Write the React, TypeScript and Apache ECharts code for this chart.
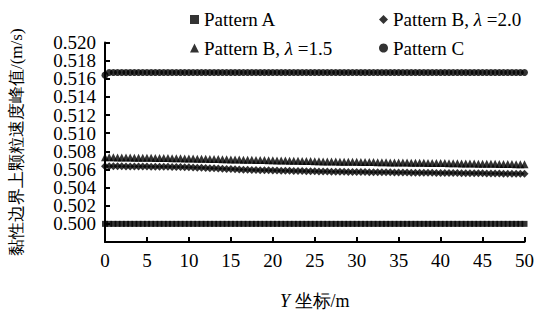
import React, { useEffect, useRef } from "react";
import * as echarts from "echarts";

const xValues = [
  0, 0.5, 1, 1.5, 2, 2.5, 3, 3.5, 4, 4.5,
  5, 5.5, 6, 6.5, 7, 7.5, 8, 8.5, 9, 9.5,
  10, 10.5, 11, 11.5, 12, 12.5, 13, 13.5, 14, 14.5,
  15, 15.5, 16, 16.5, 17, 17.5, 18, 18.5, 19, 19.5,
  20, 20.5, 21, 21.5, 22, 22.5, 23, 23.5, 24, 24.5,
  25, 25.5, 26, 26.5, 27, 27.5, 28, 28.5, 29, 29.5,
  30, 30.5, 31, 31.5, 32, 32.5, 33, 33.5, 34, 34.5,
  35, 35.5, 36, 36.5, 37, 37.5, 38, 38.5, 39, 39.5,
  40, 40.5, 41, 41.5, 42, 42.5, 43, 43.5, 44, 44.5,
  45, 45.5, 46, 46.5, 47, 47.5, 48, 48.5, 49, 49.5, 50,
];

const patternA = [
  0.5, 0.5, 0.5, 0.5, 0.5, 0.5, 0.5, 0.5, 0.5, 0.5,
  0.5, 0.5, 0.5, 0.5, 0.5, 0.5, 0.5, 0.5, 0.5, 0.5,
  0.5, 0.5, 0.5, 0.5, 0.5, 0.5, 0.5, 0.5, 0.5, 0.5,
  0.5, 0.5, 0.5, 0.5, 0.5, 0.5, 0.5, 0.5, 0.5, 0.5,
  0.5, 0.5, 0.5, 0.5, 0.5, 0.5, 0.5, 0.5, 0.5, 0.5,
  0.5, 0.5, 0.5, 0.5, 0.5, 0.5, 0.5, 0.5, 0.5, 0.5,
  0.5, 0.5, 0.5, 0.5, 0.5, 0.5, 0.5, 0.5, 0.5, 0.5,
  0.5, 0.5, 0.5, 0.5, 0.5, 0.5, 0.5, 0.5, 0.5, 0.5,
  0.5, 0.5, 0.5, 0.5, 0.5, 0.5, 0.5, 0.5, 0.5, 0.5,
  0.5, 0.5, 0.5, 0.5, 0.5, 0.5, 0.5, 0.5, 0.5, 0.5, 0.5,
];

const patternB20 = [
  0.50635, 0.50635, 0.50634, 0.50634, 0.50634, 0.50633, 0.50633, 0.50633, 0.50632, 0.50632,
  0.50632, 0.50631, 0.50631, 0.5063, 0.5063, 0.50629, 0.50628, 0.50627, 0.50626, 0.50625,
  0.50624, 0.50622, 0.5062, 0.50618, 0.50616, 0.50614, 0.50612, 0.5061, 0.50608, 0.50606,
  0.50604, 0.50602, 0.506, 0.50598, 0.50597, 0.50595, 0.50594, 0.50592, 0.50591, 0.5059,
  0.50589, 0.50588, 0.50587, 0.50586, 0.50585, 0.50584, 0.50583, 0.50582, 0.50581, 0.5058,
  0.50579, 0.50578, 0.50577, 0.50577, 0.50576, 0.50575, 0.50575, 0.50574, 0.50573, 0.50573,
  0.50572, 0.50572, 0.50571, 0.5057, 0.5057, 0.50569, 0.50569, 0.50568, 0.50568, 0.50567,
  0.50567, 0.50566, 0.50566, 0.50565, 0.50565, 0.50564, 0.50564, 0.50563, 0.50563, 0.50562,
  0.50562, 0.50561, 0.50561, 0.5056, 0.5056, 0.50559, 0.50559, 0.50558, 0.50558, 0.50557,
  0.50557, 0.50556, 0.50556, 0.50555, 0.50555, 0.50554, 0.50554, 0.50553, 0.50553, 0.50552, 0.50552,
];

const patternB15 = [
  0.50735, 0.50734, 0.50734, 0.50733, 0.50732, 0.50732, 0.50731, 0.5073, 0.5073, 0.50729,
  0.50728, 0.50728, 0.50727, 0.50726, 0.50726, 0.50725, 0.50724, 0.50724, 0.50723, 0.50722,
  0.50721, 0.5072, 0.50719, 0.50718, 0.50717, 0.50716, 0.50715, 0.50714, 0.50713, 0.50712,
  0.50711, 0.5071, 0.50709, 0.50708, 0.50707, 0.50706, 0.50705, 0.50704, 0.50703, 0.50702,
  0.50701, 0.507, 0.50699, 0.50698, 0.50697, 0.50696, 0.50695, 0.50694, 0.50693, 0.50692,
  0.50691, 0.5069, 0.50689, 0.50688, 0.50688, 0.50687, 0.50686, 0.50686, 0.50685, 0.50684,
  0.50684, 0.50683, 0.50682, 0.50682, 0.50681, 0.5068, 0.5068, 0.50679, 0.50678, 0.50678,
  0.50677, 0.50676, 0.50676, 0.50675, 0.50674, 0.50674, 0.50673, 0.50672, 0.50672, 0.50671,
  0.5067, 0.5067, 0.50669, 0.50668, 0.50668, 0.50667, 0.50666, 0.50666, 0.50665, 0.50664,
  0.50664, 0.50663, 0.50662, 0.50662, 0.50661, 0.5066, 0.5066, 0.50659, 0.50658, 0.50658, 0.50657,
];

const patternC = [
  0.5164, 0.5167, 0.5167, 0.5167, 0.5167, 0.5167, 0.5167, 0.5167, 0.5167, 0.5167,
  0.5167, 0.5167, 0.5167, 0.5167, 0.5167, 0.5167, 0.5167, 0.5167, 0.5167, 0.5167,
  0.5167, 0.5167, 0.5167, 0.5167, 0.5167, 0.5167, 0.5167, 0.5167, 0.5167, 0.5167,
  0.5167, 0.5167, 0.5167, 0.5167, 0.5167, 0.5167, 0.5167, 0.5167, 0.5167, 0.5167,
  0.5167, 0.5167, 0.5167, 0.5167, 0.5167, 0.5167, 0.5167, 0.5167, 0.5167, 0.5167,
  0.5167, 0.5167, 0.5167, 0.5167, 0.5167, 0.5167, 0.5167, 0.5167, 0.5167, 0.5167,
  0.5167, 0.5167, 0.5167, 0.5167, 0.5167, 0.5167, 0.5167, 0.5167, 0.5167, 0.5167,
  0.5167, 0.5167, 0.5167, 0.5167, 0.5167, 0.5167, 0.5167, 0.5167, 0.5167, 0.5167,
  0.5167, 0.5167, 0.5167, 0.5167, 0.5167, 0.5167, 0.5167, 0.5167, 0.5167, 0.5167,
  0.5167, 0.5167, 0.5167, 0.5167, 0.5167, 0.5167, 0.5167, 0.5167, 0.5167, 0.5167, 0.5167,
];

const seriesNames = ["Pattern A", "Pattern B, λ=2.0", "Pattern B, λ=1.5", "Pattern C"];
const seriesSymbols = ["rect", "diamond", "triangle", "circle"];
const seriesSizes = [6, 8, 8, 7];
const seriesValues = [patternA, patternB20, patternB15, patternC];

const yAxisTitle = "黏性边界上颗粒速度峰值/(m/s)";

function legendLabel(name: string): string {
  if (name.indexOf("λ") >= 0) {
    const parts = name.split("λ");
    return `{n|${parts[0]}}{i|λ}{n| ${parts[1]}}`;
  }
  return `{n|${name}}`;
}

export default function App() {
  const ref = useRef<HTMLDivElement>(null);
  useEffect(() => {
    if (!ref.current) return;
    const chart = echarts.init(ref.current, undefined, { renderer: "svg" });
    const legendPos = [
      { left: 190, top: 10 },
      { left: 379, top: 10 },
      { left: 190, top: 38.5 },
      { left: 379, top: 38.5 },
    ];
    const rich = {
      n: { fontSize: 19, color: "#000" },
      i: { fontSize: 19, fontStyle: "italic", color: "#000" },
    };
    chart.setOption({
      animation: false,
      backgroundColor: "#fff",
      textStyle: { fontFamily: "serif", color: "#000" },
      grid: { left: 97, right: 9, top: 42.5, bottom: 66, containLabel: false },
      legend: seriesNames.map((n, i) => ({
        data: [n],
        left: legendPos[i].left,
        top: legendPos[i].top,
        padding: 0,
        itemWidth: 9,
        itemHeight: 9,
        itemGap: 0,
        formatter: (name: string) => legendLabel(name),
        textStyle: { color: "#000", fontSize: 19, rich },
      })),
      xAxis: {
        type: "value",
        min: 0,
        max: 50,
        interval: 5,
        name: "{i|Y} {n|坐标/m}",
        nameLocation: "middle",
        nameGap: 50,
        nameTextStyle: {
          color: "#000",
          fontSize: 18,
          rich: {
            i: { fontSize: 18, fontStyle: "italic", color: "#000" },
            n: { fontSize: 18, color: "#000" },
          },
        },
        axisLine: { onZero: false, lineStyle: { color: "#000", width: 2 } },
        axisTick: { inside: true, length: 5, lineStyle: { color: "#000", width: 2 } },
        axisLabel: { color: "#000", fontSize: 19, margin: 9 },
        splitLine: { show: false },
      },
      yAxis: {
        type: "value",
        min: 0.498,
        max: 0.52000001,
        interval: 0.002,
        name: yAxisTitle,
        nameLocation: "middle",
        nameRotate: 90,
        nameGap: 80,
        nameTextStyle: { color: "#000", fontSize: 17 },
        axisLine: { show: true, onZero: false, lineStyle: { color: "#000", width: 2 } },
        axisTick: { show: true, inside: true, length: 5, lineStyle: { color: "#000", width: 2 } },
        axisLabel: {
          color: "#000",
          fontSize: 19,
          lineHeight: 17,
          margin: 9,
          formatter: (v: number) => v.toFixed(3),
        },
        splitLine: { show: false },
      },
      series: seriesNames.map((n, i) => ({
        name: n,
        type: "scatter",
        symbol: seriesSymbols[i],
        symbolSize: seriesSizes[i],
        itemStyle: { color: "#000" },
        data: xValues.map((x, j) => [x, seriesValues[i][j]]),
      })),
    });
    return () => chart.dispose();
  }, []);
  return (
    <div
      ref={ref}
      style={{ position: "absolute", left: 0, top: 0, width: 537, height: 315 }}
    />
  );
}
